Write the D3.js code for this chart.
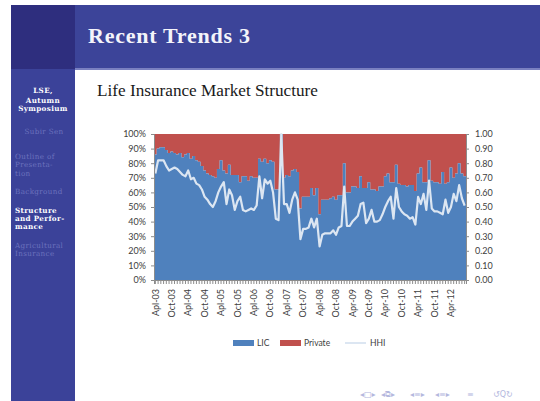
<!DOCTYPE html>
<html><head><meta charset="utf-8">
<script src="https://cdn.jsdelivr.net/npm/d3@7"></script>
<style>body{margin:0;background:#fff}svg{display:block}</style>
</head><body><svg id="c" width="540" height="401"></svg>
<script>
// LIC market share (%) per month, Apr-03 .. Sep-12
const lic = [86,90,91,91,89,87,88,87,86,87,
  84,86,87,83,85,82,81,78,75,73,
  72,71,70,76,82,75,73,79,72,72,
  72,67,71,71,68,71,70,70,83,81,
  83,80,82,81,62,62,100,70,72,71,
  75,76,74,49,57,57,57,63,58,63,
  45,55,55,55,56,57,55,58,58,80,
  60,60,64,64,63,71,63,63,67,62,
  62,61,64,64,71,73,67,67,79,66,
  65,65,64,65,65,61,73,77,67,67,
  82,68,67,67,66,74,66,67,77,70,
  73,80,73,71];
// HHI per month
const hhi = [0.73,0.82,0.82,0.82,0.78,0.75,0.76,0.77,0.76,0.74,
  0.72,0.71,0.75,0.69,0.70,0.66,0.65,0.62,0.57,0.55,
  0.52,0.50,0.54,0.60,0.64,0.67,0.52,0.62,0.58,0.48,
  0.54,0.57,0.48,0.47,0.48,0.49,0.48,0.51,0.71,0.56,
  0.69,0.66,0.68,0.60,0.42,0.41,1.00,0.52,0.52,0.46,
  0.55,0.60,0.55,0.28,0.35,0.35,0.36,0.42,0.36,0.42,
  0.23,0.31,0.32,0.32,0.32,0.34,0.31,0.36,0.37,0.64,
  0.37,0.37,0.40,0.42,0.44,0.52,0.53,0.39,0.42,0.48,
  0.40,0.40,0.41,0.45,0.50,0.54,0.57,0.42,0.63,0.50,
  0.47,0.45,0.44,0.42,0.43,0.38,0.57,0.52,0.59,0.48,
  0.68,0.49,0.47,0.47,0.46,0.45,0.55,0.46,0.50,0.59,
  0.54,0.65,0.56,0.51];
const tickLabels = ["Apl-03","Oct-03","Apl-04","Oct-04","Apl-05","Oct-05","Apl-06","Oct-06","Apl-07","Oct-07","Apl-08","Oct-08","Apr-09","Oct-09","Apr-10","Oct-10","Apr-11","Oct-11","Apr-12"];
const legendItems = ["LIC","Private","HHI"];
const sidebarItems = [
  {lines:["Outline of","Presenta-","tion"], active:false},
  {lines:["Background"], active:false},
  {lines:["Structure","and Perfor-","mance"], active:true},
  {lines:["Agricultural","Insurance"], active:false}
];

const svg = d3.select("#c");
const blue = "#4f81bd", red = "#c0504d", hhiCol = "#dce6f2";

// ---- slide frame ----
svg.append("rect").attr("x",0).attr("y",0).attr("width",540).attr("height",401).attr("fill","#fff");
svg.append("rect").attr("x",75).attr("y",5).attr("width",465).attr("height",64).attr("fill","#3c4499");
svg.append("rect").attr("x",11).attr("y",5).attr("width",64).attr("height",64).attr("fill","#2e2e7e");
svg.append("rect").attr("x",11).attr("y",69).attr("width",64).attr("height",332).attr("fill","#3b4299");
svg.append("rect").attr("x",75).attr("y",68).attr("width",465).attr("height",2).attr("fill","#7a80c0");

svg.append("text").attr("x",88).attr("y",43).text("Recent Trends 3")
  .attr("font-family","Liberation Serif, serif").attr("font-weight","bold")
  .attr("font-size",22).attr("textLength",162).attr("lengthAdjust","spacing").attr("fill","#f4f4fa");

const sb = svg.append("g").attr("font-family","DejaVu Serif, serif").attr("font-size",7.2).attr("letter-spacing",0.35);
[["LSE,",90],["Autumn",99.5],["Symposium",108]].forEach(([t,y])=>{
  sb.append("text").attr("x",43).attr("y",y+3).attr("text-anchor","middle").attr("font-weight","bold").attr("fill","#fff").text(t);
});
sb.append("text").attr("x",44).attr("y",134).attr("text-anchor","middle").attr("fill","#6c72bd").text("Subir Sen");
let yy = 159;
sidebarItems.forEach(it=>{
  it.lines.forEach(l=>{
    sb.append("text").attr("x",15).attr("y",yy).attr("fill", it.active?"#fff":"#6c72bd")
      .attr("font-weight", it.active?"bold":"normal").text(l);
    yy += 8.4;
  });
  yy += 10;
});

svg.append("text").attr("x",97).attr("y",96).text("Life Insurance Market Structure")
  .attr("font-family","Liberation Serif, serif").attr("font-size",17.2).attr("fill","#1a1a1a");

// ---- chart ----
const L=154, R=466, T=134, B=280;
const idx = d3.range(lic.length);
const x = d3.scaleBand().domain(idx).range([L,R]).padding(0);
const yL = d3.scaleLinear().domain([0,100]).range([B,T]);
const yR = d3.scaleLinear().domain([0,1]).range([B,T]);

// step data: each month's value held across its band
const steps = idx.map(i=>({x:x(i), v:lic[i]}));
steps.push({x:x.range()[1], v:lic[lic.length-1]});
const g = svg.append("g");
g.append("path").datum(steps)
  .attr("d", d3.area().curve(d3.curveStepAfter).x(d=>d.x).y0(yL(100)).y1(d=>yL(d.v)))
  .attr("fill",red);
g.append("path").datum(steps)
  .attr("d", d3.area().curve(d3.curveStepAfter).x(d=>d.x).y0(yL(0)).y1(d=>yL(d.v)))
  .attr("fill",blue);

g.append("path").datum(idx)
  .attr("d", d3.line().x(i=>x(i)+x.bandwidth()/2).y(i=>yR(hhi[i])))
  .attr("fill","none").attr("stroke",hhiCol).attr("stroke-width",2.2).attr("stroke-linejoin","round");

const axFont = "Lato, 'Open Sans', sans-serif";
const ax = svg.append("g").attr("transform",`translate(${L},0)`)
  .call(d3.axisLeft(yL).tickValues(d3.range(0,101,10)).tickFormat(d=>d+"%").tickSize(3).tickPadding(5));
const axr = svg.append("g").attr("transform",`translate(${R},0)`)
  .call(d3.axisRight(yR).tickValues(d3.range(0,1.01,0.1)).tickFormat(d3.format(".2f")).tickSize(3).tickPadding(6));
const axb = svg.append("g").attr("transform",`translate(0,${B})`)
  .call(d3.axisBottom(x).tickSize(4).tickFormat(i=> i%6===0 ? tickLabels[i/6] : "").tickPadding(3));
[ax,axr,axb].forEach(a=>{
  a.selectAll("path,line").attr("stroke","#8c8c8c");
  a.selectAll("text").attr("font-family",axFont).attr("font-size",9).attr("fill","#404040");
});
axb.selectAll("text").attr("transform","rotate(-90)").attr("text-anchor","end")
  .attr("dy","0.35em").attr("x",-9).attr("y",0);

// ---- legend ----
const lg = svg.append("g").attr("font-family",axFont).attr("font-size",8.5).attr("fill","#404040");
lg.append("rect").attr("x",233).attr("y",340).attr("width",21).attr("height",6).attr("fill",blue);
lg.append("text").attr("x",257).attr("y",346).text(legendItems[0]);
lg.append("rect").attr("x",280).attr("y",340).attr("width",21).attr("height",6).attr("fill",red);
lg.append("text").attr("x",304).attr("y",346).text(legendItems[1]);
lg.append("line").attr("x1",345).attr("x2",366).attr("y1",343).attr("y2",343).attr("stroke",hhiCol).attr("stroke-width",2);
lg.append("text").attr("x",370).attr("y",346).text(legendItems[2]);

// ---- beamer nav symbols ----
const nav = svg.append("g").attr("font-family","DejaVu Sans, sans-serif").attr("font-size",8).attr("fill","#b4b8de");
[["◂□▸",360],["◂⧉▸",381],["◂≡▸",410],["◂≡▸",435],["≡",467],["↺Q↻",493]].forEach(([t,xx])=>{
  nav.append("text").attr("x",xx).attr("y",397).text(t);
});
</script>
</body></html>
